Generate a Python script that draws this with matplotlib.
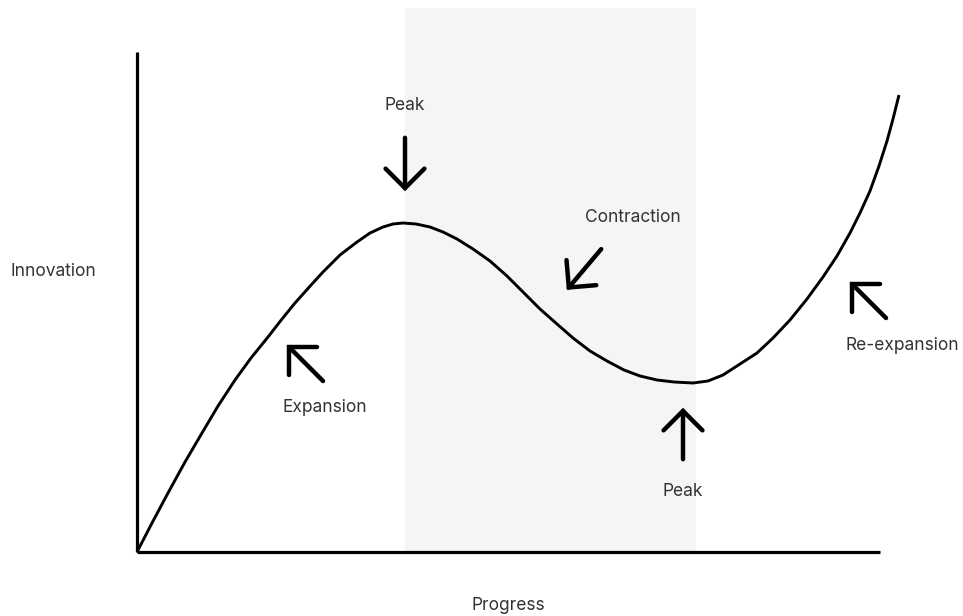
import matplotlib.pyplot as plt
from matplotlib.patches import FancyArrowPatch

# curve (progress, innovation), origin at the axis corner
progress = [0, 15, 31, 48, 65, 81, 98, 114, 131, 145, 158, 175, 186, 203, 220, 233,
            246, 256, 266, 279, 293, 306, 320, 336, 353, 370, 386, 403, 420, 436, 453,
            470, 487, 503, 520, 537, 556, 571, 586, 603, 620, 636, 653, 670, 686, 700,
            713, 723, 733, 742, 750, 756, 762]
innovation = [0, 29, 59, 90, 119, 146, 172, 194, 215, 233, 249, 268, 280, 297, 310, 319,
              325, 328, 329, 328, 325, 320, 313, 303, 291, 276, 260, 243, 228, 214, 201,
              191, 182, 176, 172, 170, 169, 171, 177, 188, 199, 214, 232, 253, 275, 296,
              319, 339, 361, 386, 411, 433, 457]

shade_x = [268, 559]
shade_top = 544
axis_x_end = 743
axis_y_end = 500

# (label, label pos, arrow tail, arrow tip)
notes = [
    ("Peak", (268, 447), (268, 417), (268, 358)),
    ("Contraction", (496, 335), (466, 305), (428, 260)),
    ("Expansion", (188, 144), (188, 169), (148, 209)),
    ("Peak", (546, 60), (546, 90), (546, 147)),
    ("Re-expansion", (765, 207), (751, 232), (711, 272)),
]

plt.rcParams['font.family'] = ['Inter', 'DejaVu Sans']

fig = plt.figure(figsize=(9.63, 6.16), dpi=100)
ax = fig.add_axes([0, 0, 1, 1])
ax.set_xlim(-137, 826)
ax.set_ylim(-64, 552)
ax.axis('off')

ax.axvspan(shade_x[0], shade_x[1], ymin=64 / 616, ymax=(64 + shade_top) / 616,
           color='#f5f5f5', zorder=0, lw=0)

ax.plot([0, 0], [0, axis_y_end], color='black', lw=2.3, solid_capstyle='butt', zorder=2)
ax.plot([0, axis_x_end], [0, 0], color='black', lw=2.3, solid_capstyle='butt', zorder=2)

ax.plot(progress, innovation, color='black', lw=2.1, zorder=3, clip_on=False,
        solid_joinstyle='round', solid_capstyle='butt')

for label, pos, tail, tip in notes:
    ax.text(pos[0], pos[1], label, ha='center', va='center', fontsize=12.5, color='#333333')
    arr = FancyArrowPatch(tail, tip, arrowstyle='->,head_length=0.7,head_width=0.7',
                          mutation_scale=20, lw=3.2, color='black',
                          capstyle='round', joinstyle='miter', zorder=4)
    ax.add_patch(arr)

ax.text(-84, 280, "Innovation", ha='center', va='center', fontsize=12.5, color='#333333')
ax.text(371, -54, "Progress", ha='center', va='center', fontsize=12.5, color='#333333')

fig.savefig('out.png', dpi=100)
